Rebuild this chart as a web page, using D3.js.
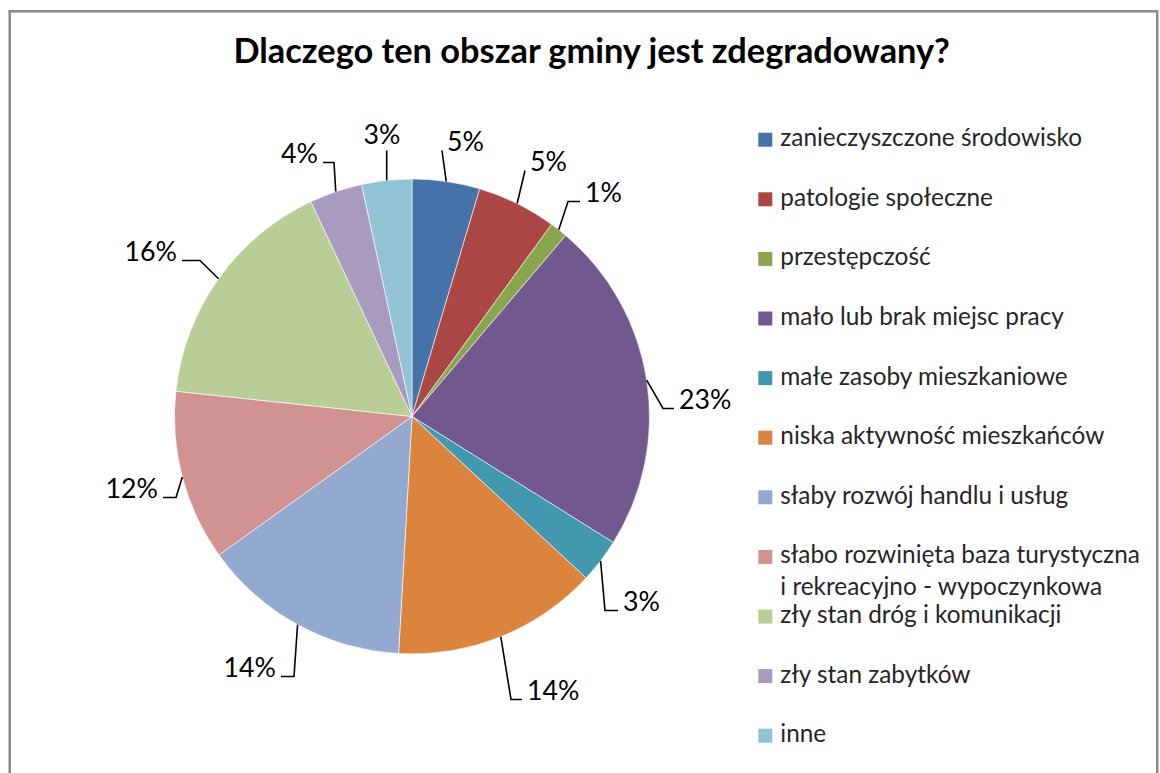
<!DOCTYPE html>
<html>
  <head>
    <meta charset="utf-8">
    <title>Dlaczego ten obszar gminy jest zdegradowany?</title>
    <script src="https://d3js.org/d3.v7.min.js"></script>
    <style>
      body { margin: 0; background: #fff; }
      svg text { font-family: Lato, 'Open Sans', sans-serif; }
      .leader { fill: none; stroke: #000; stroke-width: 1.6px; }
    </style>
  </head>
  <body>
    <script>

      // data (percent shares)
      var categories = [
        "zanieczyszczone środowisko",
        "patologie społeczne",
        "przestępczość",
        "mało lub brak miejsc pracy",
        "małe zasoby mieszkaniowe",
        "niska aktywność mieszkańców",
        "słaby rozwój handlu i usług",
        "słabo rozwinięta baza turystyczna\ni rekreacyjno - wypoczynkowa",
        "zły stan dróg i komunikacji",
        "zły stan zabytków",
        "inne"
      ];
      var shares = [4.6, 5.4, 1.2, 22.7, 3.0, 14.0, 14.2, 11.6, 16.3, 3.6, 3.4];
      var colors = ["#4572A7", "#AA4643", "#89A54E", "#71588F", "#4198AF", "#DB843D",
                    "#93A9CF", "#D19392", "#B9CD96", "#A99BBD", "#92C3D4"];
      var title = "Dlaczego ten obszar gminy jest zdegradowany?";

      // label placement, relative to pie centre (text baseline), hseg = flat part of leader
      var labelLayout = [
        {dx: 35, dy: -266, anchor: "start", hseg: 0},
        {dx: 118, dy: -246, anchor: "start", hseg: 0},
        {dx: 173, dy: -215, anchor: "start", hseg: 12},
        {dx: 267, dy: -8, anchor: "start", hseg: 11},
        {dx: 211, dy: 194, anchor: "start", hseg: 13},
        {dx: 115, dy: 283, anchor: "start", hseg: 11},
        {dx: -136, dy: 260, anchor: "end", hseg: 13},
        {dx: -254, dy: 81, anchor: "end", hseg: 13},
        {dx: -235, dy: -156, anchor: "end", hseg: 18},
        {dx: -94, dy: -254, anchor: "end", hseg: 11},
        {dx: -30, dy: -273, anchor: "middle", hseg: 0}
      ];

      // setup
      var w = 1160;
      var h = 773;
      var cx = 412, cy = 416.5, radius = 237.5;

      var svg = d3.select("body")
          .append("svg")
          .attr("width", w)
          .attr("height", h);

      // chart border
      svg.append("rect")
          .attr("x", 9.7)
          .attr("y", 11.3)
          .attr("width", 1147.5)
          .attr("height", 800)
          .attr("fill", "#fff")
          .attr("stroke", "#8a8a8a")
          .attr("stroke-width", 2.5);

      // scale text so its width matches the target
      function fitFont(sel, target) {
        var fs = parseFloat(sel.style("font-size"));
        var tw = sel.node().getComputedTextLength();
        var size = fs * target / tw;
        sel.style("font-size", size + "px");
        return size;
      }

      // title
      var titleText = svg.append("text")
          .attr("x", 591.7)
          .attr("y", 63.3)
          .attr("text-anchor", "middle")
          .attr("font-weight", "bold")
          .attr("fill", "#000")
          .style("font-size", "28px")
          .text(title);
      fitFont(titleText, 716.7);

      // pie
      var pie = d3.pie().sort(null).value(function(d) { return d; });
      var arcs = pie(shares);
      var arc = d3.arc().innerRadius(0).outerRadius(radius);
      var edgeArc = d3.arc().innerRadius(radius).outerRadius(radius);
      var color = d3.scaleOrdinal().domain(d3.range(shares.length)).range(colors);

      var plotarea = svg.append("g")
          .attr("transform", "translate(" + cx + "," + cy + ")");

      plotarea.selectAll("path.slice")
          .data(arcs)
          .enter()
          .append("path")
          .attr("class", "slice")
          .attr("d", arc)
          .attr("fill", function(d, i) { return color(i); })
          .attr("stroke", "#fff")
          .attr("stroke-width", 0.6);

      // data labels + leader lines
      var labelSize = null;
      arcs.forEach(function(d, i) {
        var lay = labelLayout[i];
        var t = plotarea.append("text")
            .attr("x", lay.dx)
            .attr("y", lay.dy)
            .attr("text-anchor", lay.anchor)
            .attr("fill", "#000")
            .style("font-size", "28px")
            .text(Math.round(d.value) + "%");
        if (labelSize === null) {
          labelSize = fitFont(plotarea.append("text").style("font-size", "28px").text("23%"), 52.4);
        }
        t.style("font-size", labelSize + "px");

        var e = edgeArc.centroid(d);
        var end, elbow;
        if (lay.anchor === "start") {
          end = [lay.dx - 5, lay.dy];
          elbow = [end[0] - lay.hseg, lay.dy];
        } else if (lay.anchor === "end") {
          end = [lay.dx + 5, lay.dy];
          elbow = [end[0] + lay.hseg, lay.dy];
        } else {
          end = [e[0], lay.dy + 7];
          elbow = end;
        }
        plotarea.append("path")
            .attr("class", "leader")
            .attr("d", d3.line()([e, elbow, end]));
      });
      // remove measuring helper
      plotarea.selectAll("text").filter(function() { return this.textContent === "23%" && !this.hasAttribute("x"); }).remove();

      // legend
      var legendX = 758.3, legendY0 = 139.7, legendStep = 59.6;
      var legend = svg.append("g").attr("class", "legend");
      var legendSize = fitFont(legend.append("text").style("font-size", "22px").text(categories[0].split("\n")[0]), 301.7);
      legend.selectAll("text").remove();

      categories.forEach(function(name, i) {
        var yc = legendY0 + i * legendStep;
        legend.append("rect")
            .attr("x", legendX)
            .attr("y", yc - 7)
            .attr("width", 14)
            .attr("height", 14)
            .attr("fill", color(i));
        var t = legend.append("text")
            .attr("x", legendX + 22)
            .attr("y", yc + 6.4)
            .attr("fill", "#262626")
            .style("font-size", legendSize + "px");
        name.split("\n").forEach(function(line, k) {
          t.append("tspan")
              .attr("x", legendX + 22)
              .attr("dy", k === 0 ? 0 : 31.7)
              .text(line);
        });
      });

    </script>
  </body>
</html>
